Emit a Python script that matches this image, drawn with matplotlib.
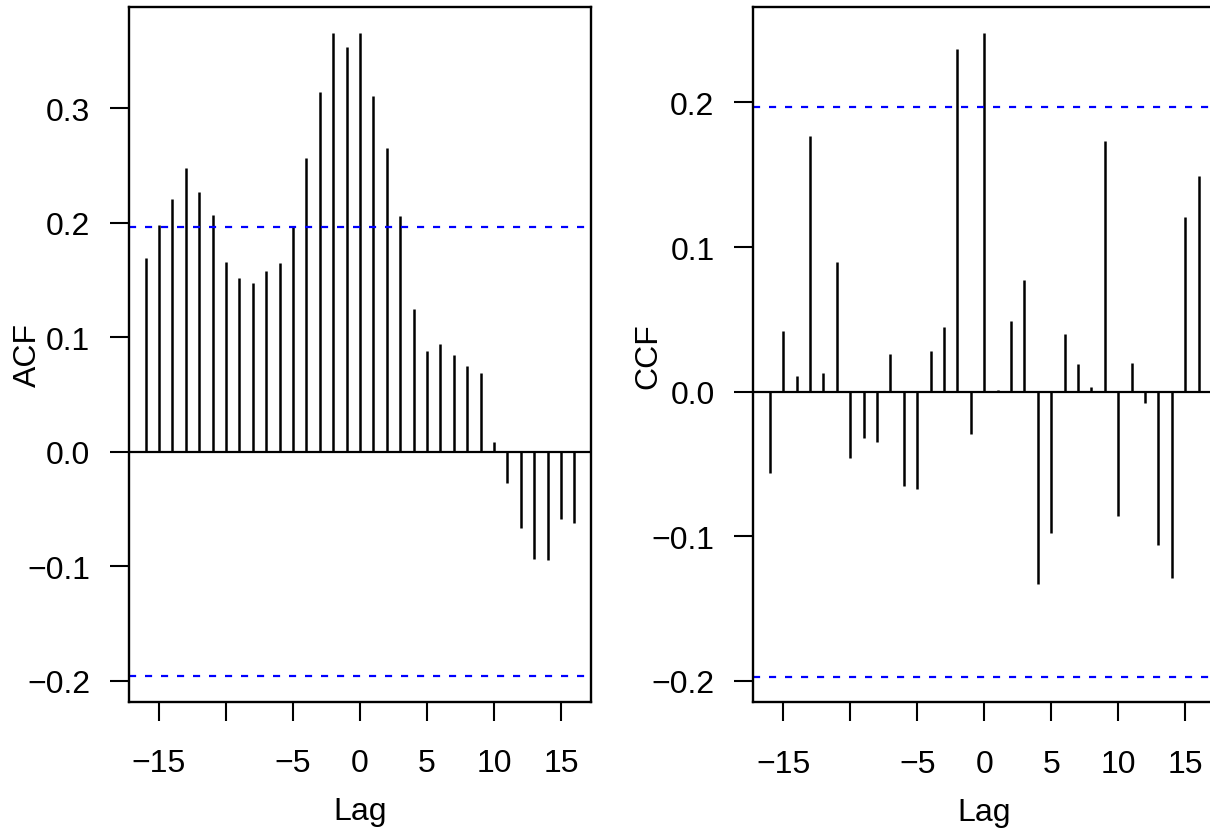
import numpy as np
import matplotlib
matplotlib.use('Agg')
import matplotlib.pyplot as plt

plt.rcParams['font.family']=['Liberation Sans','DejaVu Sans']

lags=list(range(-16,17))
# sample auto-correlation, lags -16..16
acf=[0.169,0.198,0.221,0.248,0.227,0.207,0.166,0.152,0.147,0.158,0.165,0.197,
     0.257,0.314,0.366,0.354,0.366,0.311,0.265,0.206,0.125,0.088,0.094,0.084,
     0.075,0.069,0.008,-0.027,-0.067,-0.094,-0.095,-0.059,-0.062]
# cross-correlation, lags -16..16
ccf=[-0.056,0.042,0.011,0.177,0.013,0.090,-0.046,-0.032,-0.035,0.026,-0.065,-0.067,
     0.028,0.045,0.237,-0.029,0.248,0.001,0.049,0.077,-0.133,-0.098,0.040,0.019,
     0.003,0.173,-0.086,0.020,-0.008,-0.106,-0.129,0.121,0.149]
ci_acf=0.196
ci_ccf=0.197
xticks=[-15,-10,-5,0,5,10,15]
xticklabels=['\u221215','','\u22125','0','5','10','15']

fs=23
fig=plt.figure(figsize=(12.1,8.29),dpi=100)

def corrplot(ax,vals,ci,ylab,yt):
    lag=np.array(lags)
    v=np.array(vals)
    ax.vlines(lag,0,v,color='black',linewidth=1.8)
    ax.axhline(0,color='black',linewidth=1.6)
    for c in (ci,-ci):
        ax.axhline(c,color='blue',linewidth=1.6,linestyle=(0,(3.2,4.0)))
    lo=min(v.min(),-ci); hi=max(v.max(),ci)
    d=(hi-lo)*0.04
    ax.set_ylim(lo-d,hi+d)
    ax.set_xlim(-16-1.28,16+1.28)
    ax.set_xticks(xticks)
    ax.set_xticklabels(xticklabels)
    ax.set_yticks(yt)
    ax.set_yticklabels(['%.1f'%t if t>=0 else '\u2212%.1f'%abs(t) for t in yt])
    ax.tick_params(direction='out',length=13.5,width=1.5,labelsize=fs,pad=14)
    ax.tick_params(axis='x',pad=20)
    for s in ax.spines.values():
        s.set_linewidth(1.7)
    ax.set_xlabel('Lag',fontsize=fs,labelpad=13)
    ax.set_ylabel(ylab,fontsize=fs)

ax1=fig.add_axes([0.1062,0.1524,0.3826,0.8379])
corrplot(ax1,acf,ci_acf,'ACF',[-0.2,-0.1,0.0,0.1,0.2,0.3])
ax1.yaxis.set_label_coords(-0.184,0.5)

ax2=fig.add_axes([0.6221,0.1516,0.3826,0.8384])
corrplot(ax2,ccf,ci_ccf,'CCF',[-0.2,-0.1,0.0,0.1,0.2])
ax2.yaxis.set_label_coords(-0.192,0.5)

plt.savefig('out.png',dpi=100)
